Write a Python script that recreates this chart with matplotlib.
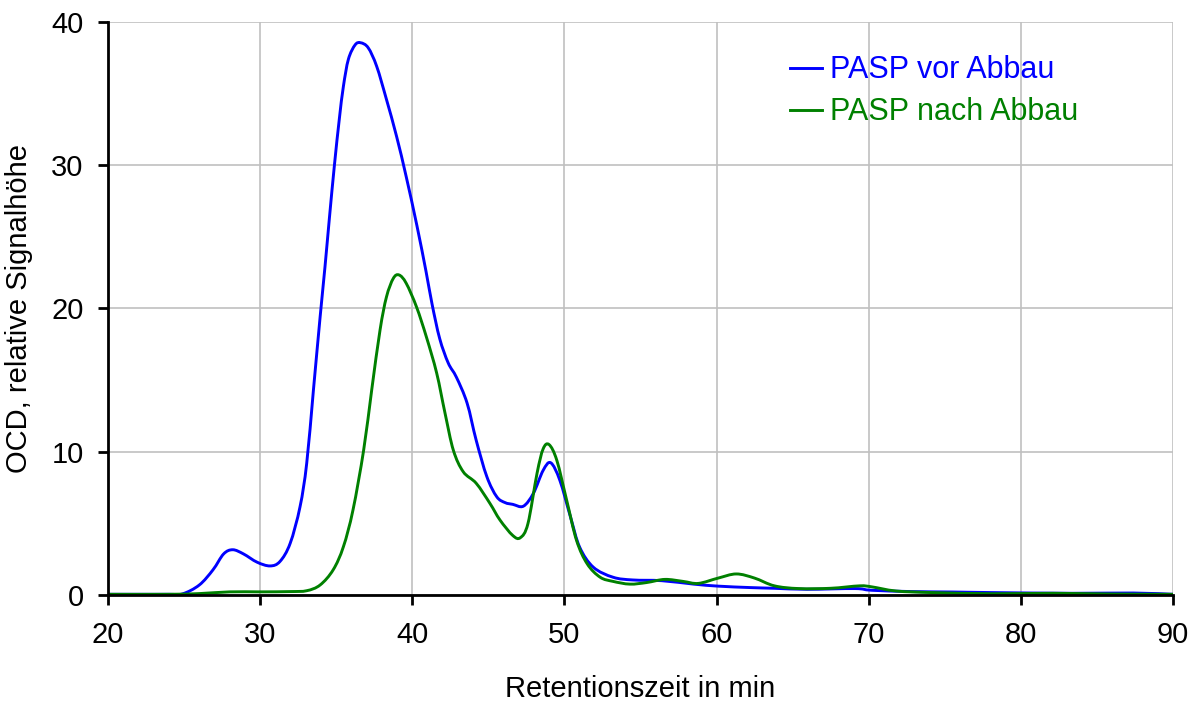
import matplotlib
matplotlib.use("Agg")
import matplotlib.pyplot as plt
from matplotlib.path import Path
from matplotlib.patches import PathPatch
from matplotlib.lines import Line2D

# Retention time (min) and OCD signal
t_vor = [20, 22, 24, 24.9, 26.0, 26.9, 27.6, 28.2, 28.9, 29.8, 30.65, 31.3, 31.97,
         32.62, 33.06, 33.5, 33.94, 34.26, 34.55, 34.88, 35.2, 35.47, 35.8, 36.24,
         36.6, 37.1, 37.66, 38.3, 38.97, 39.6, 40.3, 40.9, 41.3, 41.8, 42.36, 42.9,
         43.6, 44.2, 44.9, 45.55, 46.1, 46.6, 47.3, 47.96, 48.6, 49.1, 49.7, 50.4,
         51.0, 51.9, 53.2, 54.5, 56.4, 58.5, 60.1, 62.2, 63.8, 65.95, 69.1, 70.2,
         72.8, 75.5, 78.1, 83.4, 87.4, 90]
v_vor = [0.05, 0.05, 0.05, 0.08, 0.7, 1.76, 2.87, 3.16, 2.87, 2.29, 2.03, 2.34, 3.6,
         6.16, 9.2, 14.3, 19.4, 22.9, 26.3, 30.0, 33.2, 35.5, 37.4, 38.4,
         38.55, 38.2, 36.9, 34.6, 32.0, 29.2, 25.8, 22.6, 20.3, 17.9, 16.2, 15.2,
         13.4, 10.8, 8.26, 6.86, 6.45, 6.33, 6.2, 7.1, 8.7, 9.23, 8.0, 5.44,
         3.34, 1.94, 1.24, 1.05, 1.0, 0.76, 0.62, 0.52, 0.47, 0.4, 0.45, 0.33,
         0.24, 0.21, 0.17, 0.12, 0.14, 0.05]

t_nach = [20, 24, 26, 28, 30, 32, 33.06, 33.94, 34.8, 35.47, 36.1, 36.8, 37.33, 37.88,
          38.3, 38.75, 39.13, 39.6, 40.28, 40.93, 41.6, 42.15, 42.7, 43.35, 44.2,
          45.1, 45.76, 46.6, 47.1, 47.6, 48.2, 48.6, 48.99, 49.5, 50.15, 50.8, 51.5,
          52.35, 53.2, 54.3, 55.4, 56.6, 57.8, 58.8, 60.1, 61.3, 62.5, 63.8, 65.4,
          67.5, 69.4, 70.2, 71.8, 74.2, 78.1, 82.1, 86.0, 90]
v_nach = [0.05, 0.05, 0.1, 0.22, 0.22, 0.24, 0.3, 0.7, 1.76, 3.37, 5.93, 10.1, 14.3, 18.5,
          20.8, 22.1, 22.34, 21.76, 20.1, 18.0, 15.5, 12.7, 10.1, 8.6, 7.8,
          6.4, 5.24, 4.16, 4.0, 4.98, 8.5, 10.2, 10.5, 9.4, 6.6, 3.8, 2.17,
          1.24, 0.95, 0.76, 0.87, 1.09, 0.95, 0.81, 1.18, 1.47, 1.18, 0.64, 0.45,
          0.47, 0.64, 0.57, 0.28, 0.17, 0.09, 0.12, 0.07, 0.05]

labels = ["PASP vor Abbau", "PASP nach Abbau"]
x_ticks = [20, 30, 40, 50, 60, 70, 80, 90]
y_ticks = [0, 10, 20, 30, 40]

BLUE = "#0000ff"
GREEN = "#008000"
FS = 21
LW = 2.1


def smooth_path(xs, ys):
    """Excel-style smoothed line: Catmull-Rom through the points as Bezier segments"""
    pts = list(zip(xs, ys))
    n = len(pts)
    verts = [pts[0]]
    codes = [Path.MOVETO]
    for i in range(n - 1):
        p0 = pts[max(i - 1, 0)]
        p1 = pts[i]
        p2 = pts[i + 1]
        p3 = pts[min(i + 2, n - 1)]
        c1 = (p1[0] + (p2[0] - p0[0]) / 6, p1[1] + (p2[1] - p0[1]) / 6)
        c2 = (p2[0] - (p3[0] - p1[0]) / 6, p2[1] - (p3[1] - p1[1]) / 6)
        verts += [c1, c2, p2]
        codes += [Path.CURVE4] * 3
    return Path(verts, codes)


plt.rcParams["font.family"] = ["Liberation Sans", "DejaVu Sans"]

fig = plt.figure(figsize=(11.99, 7.02), dpi=100)
ax = fig.add_axes([0.0901, 0.1524, 0.8882, 0.8163])

for xs, ys, color, z in [(t_vor, v_vor, BLUE, 3), (t_nach, v_nach, GREEN, 4)]:
    ax.add_patch(PathPatch(smooth_path(xs, ys), fill=False, edgecolor=color,
                           lw=LW, zorder=z, capstyle="round", joinstyle="round"))

ax.set_xlim(20, 90)
ax.set_ylim(0, 40)
ax.set_xticks(x_ticks)
ax.set_yticks(y_ticks)
ax.grid(True, color="#c0c0c0", lw=1.2)
ax.set_axisbelow(True)

for side in ("top", "right"):
    ax.spines[side].set_visible(False)
for side in ("left", "bottom"):
    ax.spines[side].set_linewidth(2.0)
    ax.spines[side].set_zorder(5)

ax.tick_params(axis="x", direction="out", length=7.5, width=2.0,
               labelsize=FS, pad=11)
ax.tick_params(axis="y", direction="out", length=7.5, width=2.0,
               labelsize=FS, pad=10)

ax.set_xlabel("Retentionszeit in min", fontsize=FS)
ax.set_ylabel("OCD, relative Signalhöhe", fontsize=FS)
ax.xaxis.set_label_coords(0.5, -0.14)
ax.yaxis.set_label_coords(-0.07, 0.5)

handles = [Line2D([], [], color=BLUE, lw=LW), Line2D([], [], color=GREEN, lw=LW)]
ax.legend(handles, labels, loc="upper left", bbox_to_anchor=(0.6404, 0.942),
          frameon=False, fontsize=22, labelcolor=[BLUE, GREEN],
          handlelength=1.05, handletextpad=0.26, labelspacing=0.4,
          borderaxespad=0, borderpad=0)

fig.savefig("out.png", dpi=100, facecolor="white")
